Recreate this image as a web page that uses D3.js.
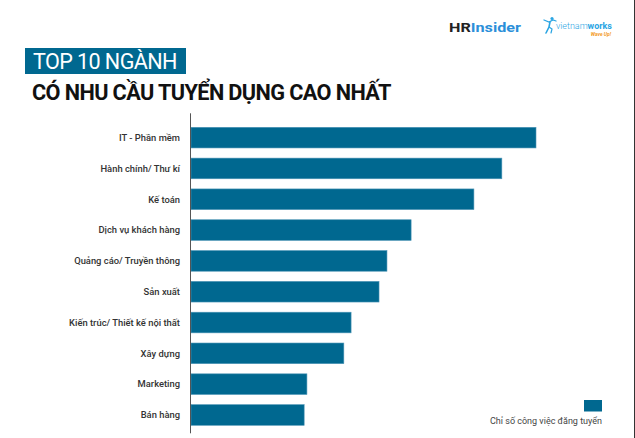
<!DOCTYPE html>
<html>
<head>
<meta charset="utf-8">
<script src="https://cdn.jsdelivr.net/npm/d3@7"></script>
<style>
  html, body { margin: 0; padding: 0; background: #fff; }
  svg { display: block; font-family: Roboto, "Noto Sans", sans-serif; }
</style>
</head>
<body>
<svg id="chart" width="635" height="438"></svg>
<script>
const categories = [
  "IT - Phần mềm",
  "Hành chính/ Thư kí",
  "Kế toán",
  "Dịch vụ khách hàng",
  "Quảng cáo/ Truyền thông",
  "Sản xuất",
  "Kiến trúc/ Thiết kế nội thất",
  "Xây dựng",
  "Marketing",
  "Bán hàng"
];
const values = [100, 90.1, 82.0, 63.8, 56.8, 54.5, 46.4, 44.3, 33.6, 32.8];
const titleLine1 = "TOP 10 NGÀNH";
const titleLine2 = "CÓ NHU CẦU TUYỂN DỤNG CAO NHẤT";
const legendLabel = "Chỉ số công việc đăng tuyển";

const svg = d3.select("#chart");
const barColor = "#006890";

const x = d3.scaleLinear().domain([0, 100]).range([191, 536]);
const y = d3.scaleBand().domain(categories).range([127.3, 425.3]).paddingInner(0.33).paddingOuter(0);

// condensed text helper: squeeze glyphs horizontally to a target width
function condensed(g, x0, y0, target, size, weight, fill, str) {
  const t = g.append("text").attr("x", 0).attr("y", 0)
    .attr("font-size", size).attr("font-weight", weight).attr("fill", fill)
    .attr("letter-spacing", -0.6).text(str);
  const w = t.node().getComputedTextLength();
  t.attr("transform", `translate(${x0},${y0}) scale(${target / w},1)`);
  return t;
}

// right frame line
svg.append("line").attr("x1", 634.5).attr("x2", 634.5).attr("y1", 0).attr("y2", 438)
  .attr("stroke", "#333").attr("stroke-width", 1);

// Title box
svg.append("rect").attr("x", 25).attr("y", 48).attr("width", 161).attr("height", 26).attr("fill", "#006890");
condensed(svg, 33, 68.5, 144, 22, 400, "#fff", titleLine1);
condensed(svg, 32, 100, 359, 21.5, 700, "#111", titleLine2);

// HR Insider logo
const hr = svg.append("text").attr("x", 449).attr("y", 32).attr("font-size", 13).attr("font-weight", 700)
  .attr("textLength", 72).attr("lengthAdjust", "spacingAndGlyphs");
hr.append("tspan").attr("fill", "#222").text("HR");
hr.append("tspan").attr("fill", "#2b8fd9").text("Insider");

// vietnamworks logo (figure + text)
const fig = svg.append("g").attr("stroke", "#2aa5e3").attr("fill", "none").attr("stroke-linecap", "round");
fig.append("circle").attr("cx", 552).attr("cy", 18.5).attr("r", 1.6).attr("fill", "#2aa5e3").attr("stroke", "none");
fig.append("path").attr("d", "M544,20 L549,22 L553,20 L556,21").attr("stroke-width", 1.3);
fig.append("path").attr("d", "M550,22 L549,27 L546,33").attr("stroke-width", 1.6);
fig.append("path").attr("d", "M549,27 L552,29 L551,33").attr("stroke-width", 1.2);
const vw = svg.append("text").attr("x", 556).attr("y", 29).attr("font-size", 9.5).attr("fill", "#2aa5e3")
  .attr("textLength", 56).attr("lengthAdjust", "spacingAndGlyphs");
vw.append("tspan").attr("font-weight", 300).text("vietnam");
vw.append("tspan").attr("font-weight", 700).text("works");
svg.append("text").attr("x", 611).attr("y", 35.5).attr("text-anchor", "end").attr("font-size", 5)
  .attr("font-style", "italic").attr("font-weight", 700).attr("fill", "#f39a1e").text("Wave Up!");

// Bars
svg.append("g").selectAll("rect").data(categories).join("rect")
  .attr("x", x(0))
  .attr("y", d => y(d))
  .attr("width", (d, i) => x(values[i]) - x(0))
  .attr("height", y.bandwidth())
  .attr("fill", barColor)
  .attr("stroke", "#4d95b6").attr("stroke-width", 0.6);

// Category labels
svg.append("g").selectAll("text").data(categories).join("text")
  .attr("x", 180)
  .attr("y", d => y(d) + y.bandwidth() / 2)
  .attr("dy", "0.35em")
  .attr("text-anchor", "end")
  .attr("font-size", 9.4)
  .attr("font-weight", 500)
  .attr("fill", "#333")
  .text(d => d);

// Axis line
const r = y.range();
svg.append("line").attr("x1", 190.5).attr("x2", 190.5).attr("y1", r[0] - 14).attr("y2", r[1] + 8)
  .attr("stroke", "#555").attr("stroke-width", 1);

// Legend
svg.append("rect").attr("x", 584).attr("y", 400).attr("width", 18).attr("height", 11.5).attr("fill", barColor);
svg.append("text").attr("x", 602).attr("y", 424).attr("text-anchor", "end")
  .attr("font-size", 9).attr("fill", "#444").text(legendLabel);
</script>
</body>
</html>
